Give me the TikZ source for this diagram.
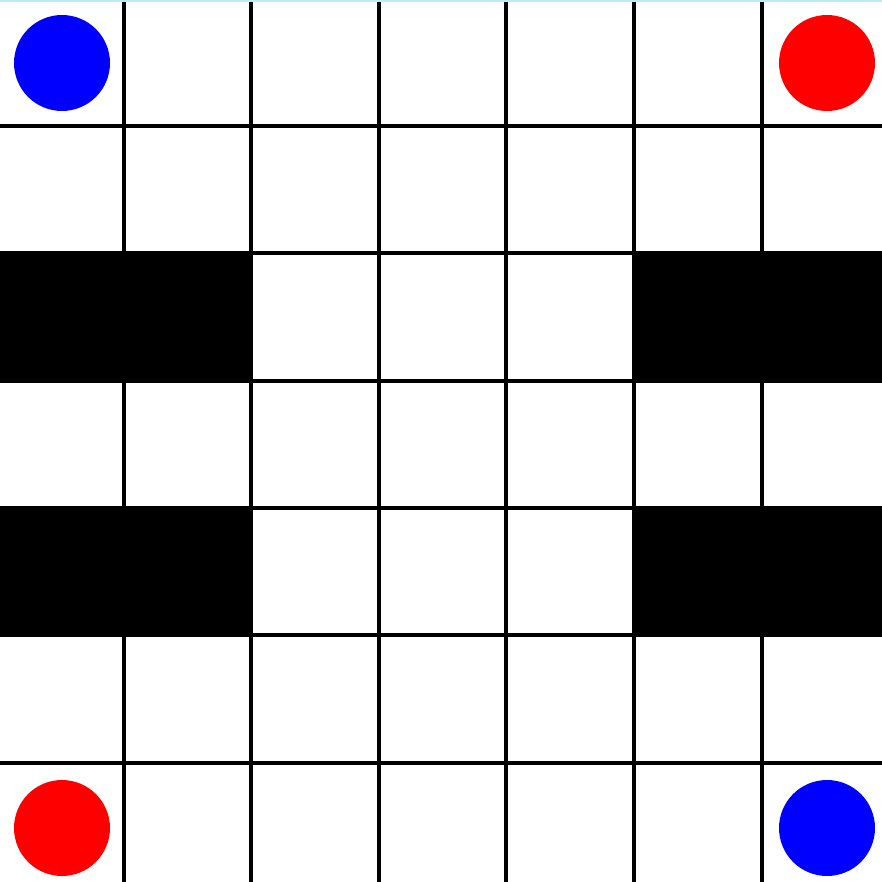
\documentclass[tikz,border=0pt]{standalone}
\usepackage{tikz}
\tikzset{
  gridline/.style={line width=0.08cm,black},
  wall/.style={fill=black},
  piece/.style={circle,inner sep=0pt,minimum size=1.92cm},
}
\begin{document}
\begin{tikzpicture}[x=0.02cm,y=-0.02cm]
  \useasboundingbox (0,0) rectangle (882,882);
  \fill[white] (0,0) rectangle (882,882);
  \fill[cyan!25] (0,0) rectangle (882,2);
  % walls
  \fill[wall] (0,253) rectangle (251,381);
  \fill[wall] (634,253) rectangle (882,381);
  \fill[wall] (0,508) rectangle (251,635);
  \fill[wall] (634,508) rectangle (882,635);
  % grid
  \foreach \x in {124,251,379,506,634,762}
    \draw[gridline] (\x,2) -- (\x,882);
  \foreach \y in {126,253,381,508,635,763}
    \draw[gridline] (0,\y) -- (882,\y);
  % pieces
  \node (blueA) at (62,63) [piece,fill=blue] {};
  \node (redA) at (827,63) [piece,fill=red] {};
  \node (redB) at (62,828) [piece,fill=red] {};
  \node (blueB) at (827,828) [piece,fill=blue] {};
\end{tikzpicture}
\end{document}
